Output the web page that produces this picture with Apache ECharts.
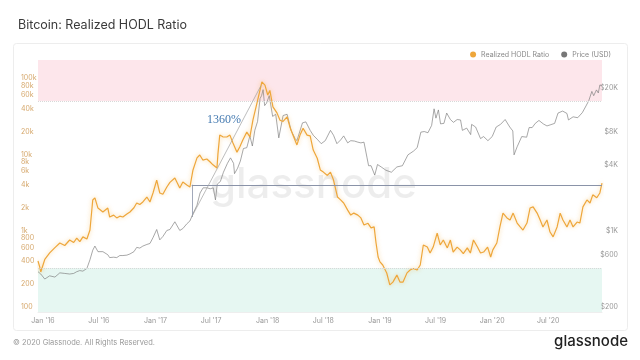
<!DOCTYPE html>
<html><head><meta charset="utf-8">
<script src="https://cdn.jsdelivr.net/npm/echarts@6/dist/echarts.min.js"></script>
<style>html,body{margin:0;padding:0;background:#fff}#c{width:640px;height:360px}</style>
</head><body><div id="c"></div>
<script>
const hodlDates = ['2015-12-16','2015-12-22','2015-12-25','2016-01-07','2016-01-23','2016-02-09','2016-02-25','2016-03-12','2016-03-28','2016-04-10','2016-04-20','2016-04-30','2016-05-10','2016-05-23','2016-06-02','2016-06-11','2016-06-18','2016-06-28','2016-07-14','2016-07-30','2016-08-05','2016-08-18','2016-08-28','2016-09-07','2016-09-17','2016-09-30','2016-10-10','2016-10-23','2016-11-01','2016-11-11','2016-11-21','2016-12-04','2016-12-14','2016-12-24','2017-01-05','2017-01-15','2017-01-25','2017-02-07','2017-02-17','2017-03-05','2017-03-21','2017-03-31','2017-04-13','2017-04-23','2017-05-03','2017-05-16','2017-05-25','2017-06-04','2017-06-17','2017-06-27','2017-07-07','2017-07-20','2017-07-23','2017-07-29','2017-08-08','2017-08-21','2017-08-31','2017-09-10','2017-09-23','2017-10-02','2017-10-12','2017-10-25','2017-11-04','2017-11-14','2017-11-27','2017-12-07','2017-12-13','2017-12-23','2018-01-01','2018-01-08','2018-01-18','2018-01-31','2018-02-10','2018-02-20','2018-03-05','2018-03-15','2018-03-24','2018-04-06','2018-04-16','2018-04-26','2018-05-09','2018-05-19','2018-05-29','2018-06-11','2018-06-21','2018-07-01','2018-07-14','2018-07-24','2018-08-03','2018-08-16','2018-08-26','2018-09-05','2018-09-18','2018-09-28','2018-10-08','2018-10-21','2018-10-31','2018-11-10','2018-11-23','2018-12-03','2018-12-13','2018-12-19','2018-12-26','2019-01-01','2019-01-10','2019-01-23','2019-02-02','2019-02-12','2019-02-25','2019-03-07','2019-03-17','2019-03-30','2019-04-09','2019-04-19','2019-05-02','2019-05-12','2019-05-22','2019-06-04','2019-06-13','2019-06-23','2019-07-06','2019-07-16','2019-07-26','2019-08-08','2019-08-18','2019-08-27','2019-09-09','2019-09-19','2019-09-29','2019-10-12','2019-10-22','2019-11-01','2019-11-14','2019-11-24','2019-12-04','2019-12-17','2019-12-27','2020-01-03','2020-01-16','2020-01-26','2020-02-05','2020-02-11','2020-02-18','2020-02-28','2020-03-09','2020-03-22','2020-04-01','2020-04-10','2020-04-23','2020-05-03','2020-05-13','2020-05-26','2020-06-05','2020-06-14','2020-06-27','2020-07-07','2020-07-17','2020-07-30','2020-08-09','2020-08-18','2020-08-31','2020-09-10','2020-09-20','2020-10-03','2020-10-12','2020-10-22','2020-11-04','2020-11-14','2020-11-23','2020-12-06','2020-12-16','2020-12-23'];
const hodlValues = [401,330,288,420,511,600,690,640,755,700,800,720,830,780,1020,2525,2690,1980,1760,1980,1510,1600,1470,1550,1510,1650,1760,2000,2310,2200,2380,2760,2380,3120,4610,3120,3000,3740,4300,4900,3620,4340,3970,3740,6250,9000,9820,8430,8700,8000,7300,6620,10000,17900,17000,16900,17900,14100,10700,12500,15400,19600,17000,28300,47000,69800,89000,81000,60000,69000,42000,35000,28000,27000,31000,22300,17900,13300,17900,22000,17900,17500,11400,8900,6250,5860,5300,5860,4610,2760,2530,2310,1860,1600,1700,1600,1470,1190,1250,1090,1120,700,452,390,355,279,195,212,262,212,212,280,305,320,305,355,650,610,510,610,930,650,755,595,755,525,610,560,500,595,510,755,610,510,525,610,452,560,690,1120,1700,1760,1470,1380,1700,1260,1120,1020,1260,1980,2050,1700,1380,1120,1380,960,830,1120,1700,1380,1120,1380,1120,1300,1260,2050,2530,2310,2950,2700,3120,4200];
const priceDates = ['2015-12-16','2015-12-22','2015-12-25','2016-01-07','2016-01-23','2016-02-09','2016-02-25','2016-03-12','2016-03-28','2016-04-10','2016-04-20','2016-04-30','2016-05-10','2016-05-23','2016-06-02','2016-06-11','2016-06-18','2016-06-28','2016-07-14','2016-07-30','2016-08-05','2016-08-18','2016-08-28','2016-09-07','2016-09-17','2016-09-30','2016-10-10','2016-10-23','2016-11-01','2016-11-11','2016-11-21','2016-12-04','2016-12-14','2016-12-24','2017-01-05','2017-01-15','2017-01-25','2017-02-07','2017-02-17','2017-03-05','2017-03-21','2017-03-31','2017-04-13','2017-04-23','2017-05-03','2017-05-16','2017-05-26','2017-06-05','2017-06-18','2017-06-28','2017-07-08','2017-07-15','2017-07-21','2017-07-31','2017-08-10','2017-08-23','2017-09-02','2017-09-12','2017-09-15','2017-09-25','2017-10-04','2017-10-14','2017-10-25','2017-11-04','2017-11-12','2017-11-20','2017-11-29','2017-12-07','2017-12-12','2017-12-17','2017-12-22','2017-12-28','2018-01-06','2018-01-17','2018-01-27','2018-02-06','2018-02-20','2018-03-05','2018-03-18','2018-03-31','2018-04-06','2018-04-24','2018-05-05','2018-05-19','2018-05-29','2018-06-11','2018-06-24','2018-07-07','2018-07-24','2018-08-03','2018-08-14','2018-08-26','2018-09-05','2018-09-18','2018-09-28','2018-10-10','2018-10-21','2018-10-31','2018-11-10','2018-11-14','2018-11-20','2018-11-25','2018-12-03','2018-12-15','2018-12-24','2019-01-05','2019-01-20','2019-02-07','2019-02-25','2019-03-15','2019-04-02','2019-04-20','2019-05-02','2019-05-14','2019-05-25','2019-06-06','2019-06-18','2019-06-26','2019-07-02','2019-07-10','2019-07-17','2019-07-28','2019-08-06','2019-08-18','2019-08-28','2019-09-09','2019-09-20','2019-09-26','2019-10-10','2019-10-23','2019-10-26','2019-11-08','2019-11-24','2019-12-04','2019-12-18','2020-01-01','2020-01-14','2020-01-28','2020-02-12','2020-02-27','2020-03-08','2020-03-12','2020-03-22','2020-04-06','2020-04-22','2020-04-30','2020-05-10','2020-05-20','2020-06-01','2020-06-15','2020-06-27','2020-07-10','2020-07-22','2020-08-02','2020-08-17','2020-08-31','2020-09-05','2020-09-20','2020-10-05','2020-10-20','2020-11-01','2020-11-10','2020-11-20','2020-11-26','2020-12-05','2020-12-11','2020-12-16','2020-12-23'];
const priceValues = [420,410,400,360,385,375,410,405,400,405,420,430,425,450,540,660,720,640,640,600,565,570,565,590,590,595,610,640,700,690,720,745,760,860,1020,820,880,1000,1020,1200,1000,1040,1150,1220,1420,1700,2200,2450,2450,2400,2450,1900,2650,2800,3400,4100,4600,4100,3300,3700,4300,5600,5700,7300,5900,8200,9900,16000,17000,19300,13800,14500,17000,11000,11500,7000,11200,11500,8200,6900,6600,9600,9800,8200,7400,6800,6200,6600,8200,7400,6200,6700,7300,6300,6600,6550,6400,6300,6400,6200,4600,3900,3900,3200,4000,3800,3550,3400,3800,3900,4900,5300,5700,7900,8000,7800,9100,12900,10600,12600,9400,9500,11800,10300,9700,10300,10200,8200,8600,7500,9300,8800,6900,7200,6600,7200,8800,9300,10300,8800,8100,4900,5800,7200,7100,8700,8700,9500,10100,9400,9000,9250,9500,11800,12300,11700,10200,10900,10700,11900,13700,15300,18600,17000,19200,18000,21300,21000];
const xTickDates = ['2016-01-01','2016-07-01','2017-01-01','2017-07-01','2018-01-01','2018-07-01','2019-01-01','2019-07-01','2020-01-01','2020-07-01'];
const ratioTicks = [100,200,400,600,800,1000,2000,4000,6000,8000,10000,20000,40000,60000,80000,100000];
const priceTicks = [200,600,1000,4000,8000,20000];
const highBand = [50000, 172600];
const lowBand = [86, 325];
const levelLine = 4000;
const annotStart = '2017-04-29';
const annotStartPrice = 1330;
const annotStartRatio = 1510;
const annotEnd = '2017-12-10';
const annotEndPrice = 21000;
const xStart = '2015-12-16';
const xEnd = '2020-12-23';

const ts = d => Date.parse(d);
const MON = ['Jan','Feb','Mar','Apr','May','Jun','Jul','Aug','Sep','Oct','Nov','Dec'];
const hodl = hodlDates.map((d, i) => [ts(d), hodlValues[i]]);
const price = priceDates.map((d, i) => [ts(d), priceValues[i]]);

const chart = echarts.init(document.getElementById('c'), null, {renderer: 'canvas'});
chart.setOption({
  animation: false,
  backgroundColor: '#fff',
  textStyle: {fontFamily: 'Inter, Roboto, sans-serif'},
  title: {
    text: 'Bitcoin: Realized HODL Ratio', left: 13, top: 14,
    textStyle: {fontSize: 12.5, fontWeight: 'normal', color: '#3a3a3a', fontFamily: 'Inter'}
  },
  legend: {
    top: 46, right: 24, itemGap: 12, itemWidth: 6, itemHeight: 6, icon: 'circle',
    textStyle: {fontSize: 7, color: '#888', fontFamily: 'Inter'},
    data: ['Realized HODL Ratio', 'Price (USD)']
  },
  graphic: [
    {type: 'rect', z: -10, shape: {x: 13.5, y: 43.5, width: 614, height: 287, r: 3}, style: {fill: 'none', stroke: '#ededed', lineWidth: 1}},
    {type: 'text', z: 0, left: 210, top: 164, style: {text: 'glassnode', fontSize: 42, fontFamily: 'Inter', fontWeight: 500, fill: 'rgba(0,0,0,0.07)'}},
    {type: 'text', z: 5, left: 207, top: 114, style: {text: '1360%', fontSize: 12, fontFamily: '"Liberation Serif", serif', fill: '#4379b0'}},
    {type: 'text', left: 13, top: 339, style: {text: '© 2020 Glassnode. All Rights Reserved.', fontSize: 7.5, fill: '#9a9a9a', fontFamily: 'Inter'}},
    {type: 'text', right: 12, top: 334, style: {text: 'glassnode', fontSize: 15, fill: '#222', fontFamily: 'Inter', fontWeight: 500}}
  ],
  grid: {left: 38, right: 38, top: 60, bottom: 48},
  xAxis: {
    type: 'value', min: ts(xStart), max: ts(xEnd),
    axisLine: {show: true, lineStyle: {color: '#eeeeee'}},
    axisTick: {show: false},
    splitLine: {show: false},
    axisLabel: {
      customValues: xTickDates.map(ts),
      fontSize: 7, color: '#999', margin: 5,
      formatter: v => { const d = new Date(v); return MON[d.getUTCMonth()] + " '" + String(d.getUTCFullYear()).slice(2); }
    }
  },
  yAxis: [
    {
      type: 'log', logBase: 10, min: 86, max: 172600, position: 'left',
      axisLine: {show: false}, axisTick: {show: false}, splitLine: {show: false},
      axisLabel: {
        customValues: ratioTicks, fontSize: 7, color: '#d6a86c', align: 'left', margin: 17,
        formatter: v => v >= 1000 ? (Math.round(v / 1000) + 'k') : String(Math.round(v))
      }
    },
    {
      type: 'log', logBase: 10, min: 180, max: 36000, position: 'right',
      axisLine: {show: false}, axisTick: {show: false}, splitLine: {show: false},
      axisLabel: {
        customValues: priceTicks, fontSize: 7, color: '#999', align: 'right', margin: 16,
        formatter: v => v >= 1000 ? ('$' + Math.round(v / 1000) + 'K') : ('$' + Math.round(v))
      }
    }
  ],
  series: [
    {
      name: 'Realized HODL Ratio', type: 'line', yAxisIndex: 0, data: hodl,
      showSymbol: false, symbol: 'none', z: 4,
      itemStyle: {color: '#eea63a'},
      lineStyle: {color: '#eea63a', width: 1.2, shadowColor: 'rgba(245,175,60,0.6)', shadowBlur: 4},
      markArea: {
        silent: true,
        data: [
          [{yAxis: highBand[0], itemStyle: {color: 'rgba(252,214,222,0.6)'}}, {yAxis: highBand[1]}],
          [{yAxis: lowBand[0], itemStyle: {color: 'rgba(214,241,233,0.6)'}}, {yAxis: lowBand[1]}]
        ]
      },
      markLine: {
        silent: true, symbol: 'none', animation: false,
        label: {show: false},
        data: [
          {yAxis: highBand[0], lineStyle: {color: '#d8d8d8', type: 'dotted', width: 1}},
          {yAxis: lowBand[1], lineStyle: {color: '#d8d8d8', type: 'dotted', width: 1}},
          [{coord: [ts(annotStart), levelLine], lineStyle: {color: '#8a93a8', width: 1, type: 'solid'}}, {coord: [ts(xEnd), levelLine]}],
          [{coord: [ts(annotStart), levelLine], lineStyle: {color: '#8a93a8', width: 0.8, type: 'solid'}}, {coord: [ts(annotStart), annotStartRatio]}]
        ]
      }
    },
    {
      name: 'Price (USD)', type: 'line', yAxisIndex: 1, data: price,
      showSymbol: false, symbol: 'none', z: 3,
      itemStyle: {color: '#777'},
      lineStyle: {color: '#787878', width: 0.65},
      markLine: {
        silent: true, symbol: 'none', animation: false, label: {show: false},
        data: [
          [{coord: [ts(annotStart), annotStartPrice], lineStyle: {color: '#a0a0a0', width: 0.7, type: 'solid'}}, {coord: [ts(annotEnd), annotEndPrice]}]
        ]
      }
    }
  ]
});
</script></body></html>
